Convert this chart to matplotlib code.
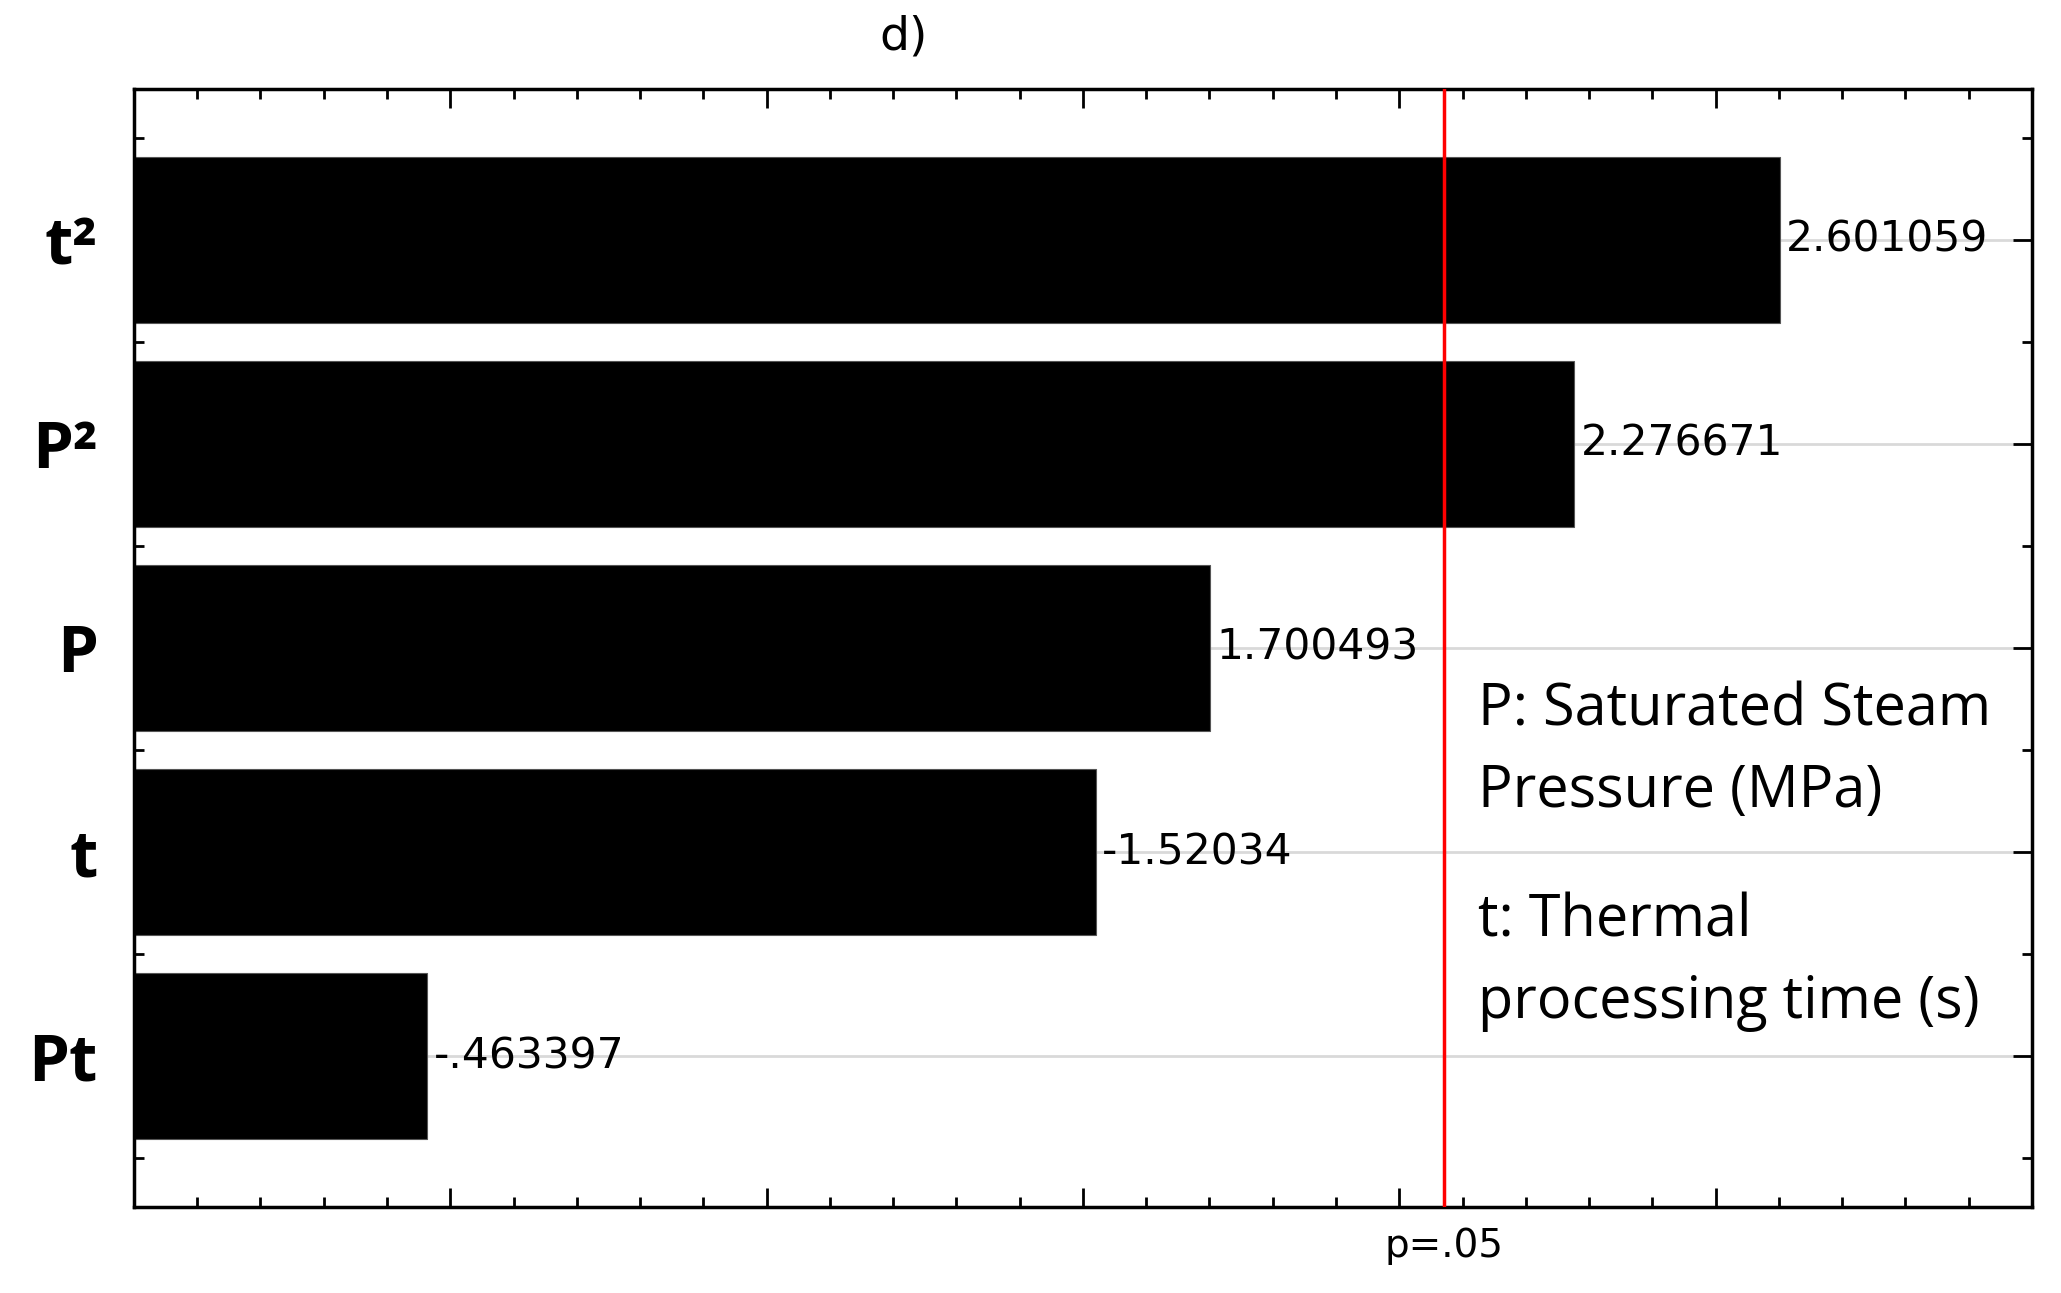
import numpy as np
import matplotlib
matplotlib.use('Agg')
import matplotlib.pyplot as plt
from matplotlib.ticker import MultipleLocator

# standardized effects (Pareto chart)
factors = ['t²', 'P²', 'P', 't', 'Pt']
effects = [2.601059, 2.276671, 1.700493, -1.52034, -0.463397]
effect_labels = ['2.601059', '2.276671', '1.700493', '-1.52034', '-.463397']
p_crit = 2.07  # p=.05 reference line

fig = plt.figure(figsize=(20.61, 12.93), dpi=100)
ax = fig.add_axes([0.0650, 0.0665, 0.9209, 0.8647])

ypos = np.arange(len(factors))
ax.barh(ypos, np.abs(effects), height=0.81, color='black',
        edgecolor='#555555', linewidth=0.8, zorder=2)

for y, v, s in zip(ypos, effects, effect_labels):
    ax.text(abs(v) + 0.01, y, s, va='center', ha='left',
            fontsize=30.5, family='DejaVu Sans', zorder=3)

ax.axvline(p_crit, color='red', lw=2.5, zorder=4)
ax.text(p_crit, -0.035, 'p=.05', transform=ax.get_xaxis_transform(),
        ha='center', va='center', fontsize=28, family='DejaVu Sans')

ax.set_xlim(0, 3.0)
ax.set_ylim(len(factors) - 1 + 0.74, -0.74)

ax.set_xticks(np.arange(0, 3.01, 0.5))
ax.xaxis.set_minor_locator(MultipleLocator(0.1))
ax.tick_params(axis='x', which='both', direction='in', top=True,
               bottom=True, labelbottom=False, width=2)
ax.tick_params(axis='x', which='major', length=14)
ax.tick_params(axis='x', which='minor', length=7)

ax.set_yticks(ypos)
ax.set_yticklabels(factors, family=['Open Sans', 'DejaVu Sans'],
                   fontweight='bold', fontsize=47)
ax.set_yticks(np.arange(-0.5, len(factors), 1.0), minor=True)
ax.tick_params(axis='y', which='both', direction='in', left=True,
               right=True, width=2)
ax.tick_params(axis='y', which='major', length=14, pad=26)
ax.tick_params(axis='y', which='minor', length=7)

ax.yaxis.grid(True, which='major', color='#d9d9d9', lw=2)
ax.set_axisbelow(True)
for sp in ax.spines.values():
    sp.set_linewidth(2.5)

# factor legend
ax.text(0.708, 0.408, 'P: Saturated Steam\nPressure (MPa)',
        transform=ax.transAxes, ha='left', va='center', fontsize=41.5,
        family='Open Sans', linespacing=1.52)
ax.text(0.708, 0.219, 't: Thermal\nprocessing time (s)',
        transform=ax.transAxes, ha='left', va='center', fontsize=41.5,
        family='Open Sans', linespacing=1.52)

fig.text(904 / 2061, 1 - 37 / 1293, 'd)', ha='center', va='center',
         fontsize=34, family='DejaVu Sans')

fig.savefig('out.png', dpi=100)
